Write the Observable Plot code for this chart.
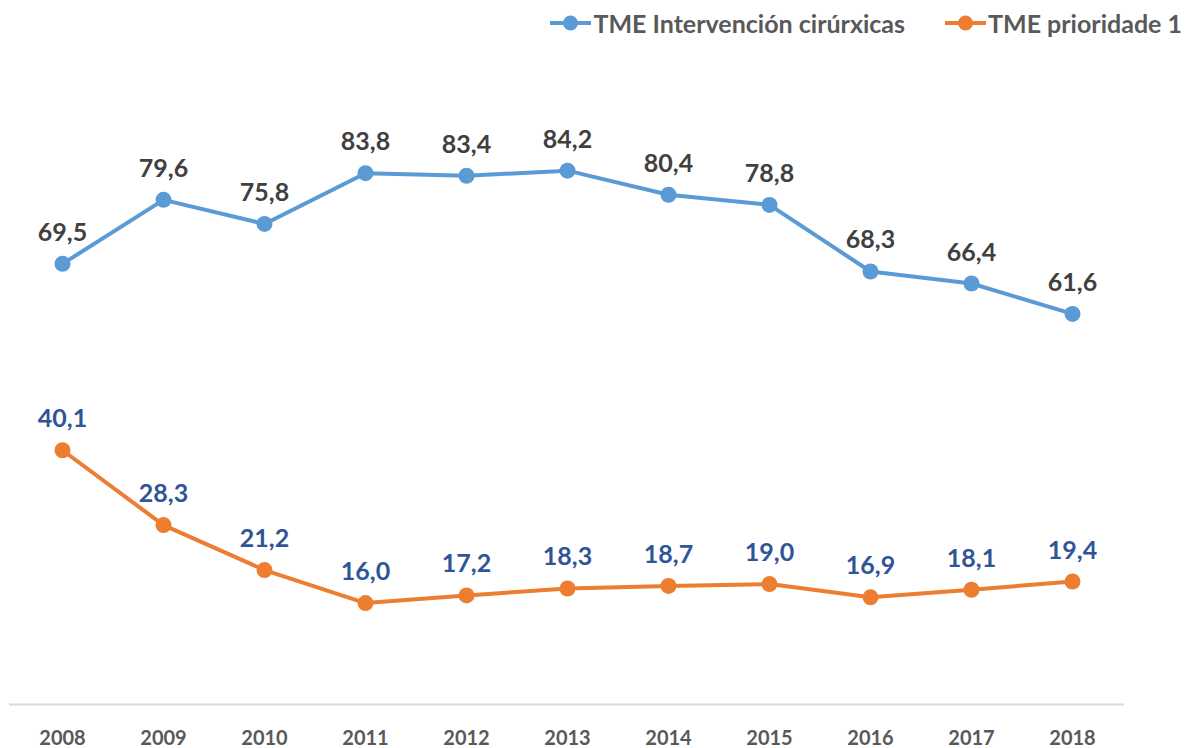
<!DOCTYPE html>
<html>
<head>
<meta charset="utf-8">
<script src="https://cdn.jsdelivr.net/npm/d3@7"></script>
<script src="https://cdn.jsdelivr.net/npm/@observablehq/plot@0.6"></script>
<style>
  html, body { margin: 0; padding: 0; background: #fff; }
  body { width: 1198px; height: 748px; overflow: hidden; font-family: Lato, "Open Sans", sans-serif; }
  #legend { height: 45px; display: flex; justify-content: flex-end; align-items: center; padding-right: 16px; box-sizing: border-box; font-weight: bold; font-size: 25px; color: #595959; }
  .item { display: flex; align-items: center; margin-left: 40px; }
  .item svg { margin-right: 2px; }
</style>
</head>
<body>
<div id="legend"></div>
<div id="chart"></div>
<script>
const years = ["2008","2009","2010","2011","2012","2013","2014","2015","2016","2017","2018"];
const intervencion = [69.5, 79.6, 75.8, 83.8, 83.4, 84.2, 80.4, 78.8, 68.3, 66.4, 61.6];
const prioridade1 = [40.1, 28.3, 21.2, 16.0, 17.2, 18.3, 18.7, 19.0, 16.9, 18.1, 19.4];
const seriesNames = ["TME Intervención cirúrxicas", "TME prioridade 1"];
const seriesColors = ["#5B9BD5", "#ED7D31"];
const labelColors = ["#404040", "#2F5597"];

const fmt = v => v.toFixed(1).replace(".", ",");
const rows = [];
[intervencion, prioridade1].forEach((vals, s) => {
  vals.forEach((v, i) => rows.push({year: years[i], value: v, series: seriesNames[s], s}));
});

// legend
const legend = document.getElementById("legend");
seriesNames.forEach((name, s) => {
  const item = document.createElement("div");
  item.className = "item";
  item.innerHTML = `<svg width="41" height="18"><line x1="0" x2="41" y1="9" y2="9" stroke="${seriesColors[s]}" stroke-width="4"/><circle cx="20.5" cy="9" r="7.5" fill="${seriesColors[s]}"/></svg><span>${name}</span>`;
  legend.appendChild(item);
});

const chart = Plot.plot({
  width: 1198,
  height: 703,
  marginLeft: 9,
  marginRight: 74,
  marginTop: 25,
  marginBottom: 44,
  style: {fontFamily: "Lato, 'Open Sans', sans-serif", background: "#fff"},
  x: {type: "point", domain: years, padding: 0.5, label: null},
  y: {domain: [0, 100], axis: null},
  marks: [
    Plot.ruleY([0], {stroke: "#d9d9d9", strokeWidth: 2}),
    Plot.axisX({tickSize: 0, tickPadding: 26, fontSize: 20, fontWeight: "bold", fill: "#595959", label: null}),
    Plot.line(rows, {x: "year", y: "value", z: "series", stroke: d => seriesColors[d.s], strokeWidth: 4}),
    Plot.dot(rows, {x: "year", y: "value", r: 8, fill: d => seriesColors[d.s], stroke: "none"}),
    Plot.text(rows, {x: "year", y: "value", text: d => fmt(d.value), dy: -31, lineAnchor: "middle", fontSize: 25, fontWeight: "bold", fill: d => labelColors[d.s]})
  ]
});
document.getElementById("chart").appendChild(chart);
</script>
</body>
</html>
